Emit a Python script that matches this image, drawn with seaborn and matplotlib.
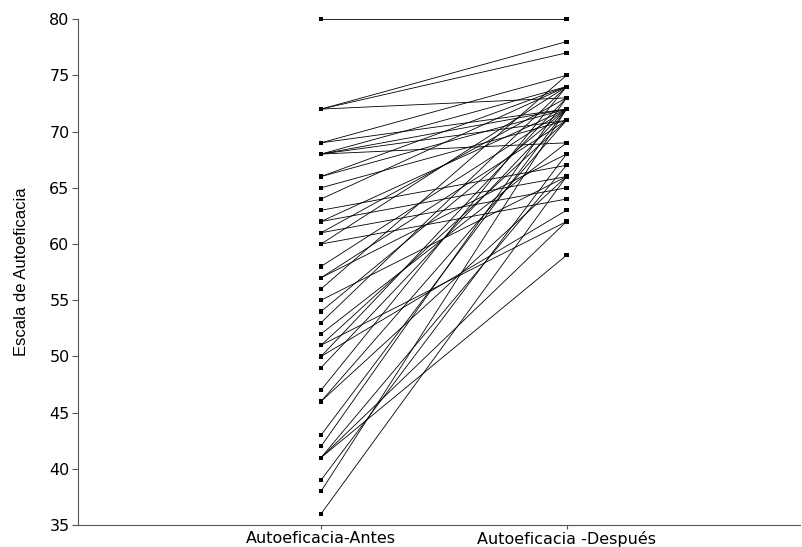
import matplotlib
matplotlib.use("Agg")
import matplotlib.pyplot as plt
import pandas as pd
import seaborn as sns

# paired scores per subject
antes = [80, 72, 72, 72, 69, 69, 68, 68, 68, 68, 66, 66, 65, 64, 63,
         62, 62, 61, 61, 60, 60, 58, 57, 57, 56, 55, 54, 53, 52, 51,
         51, 50, 50, 49, 47, 46, 46, 43, 42, 41, 41, 41, 39, 38, 36]
despues = [80, 78, 77, 73, 75, 72, 74, 72, 71, 69, 74, 72, 71, 74, 67,
           72, 66, 73, 65, 74, 64, 72, 71, 68, 75, 66, 72, 74, 69, 62,
           71, 63, 73, 72, 74, 66, 71, 72, 73, 62, 67, 59, 68, 72, 66]
categories = ["Autoeficacia-Antes", "Autoeficacia -Después"]
y_ticks = [35, 40, 45, 50, 55, 60, 65, 70, 75, 80]

rows = []
for i, (a, d) in enumerate(zip(antes, despues)):
    rows.append({"sujeto": i, "momento": 0, "valor": a})
    rows.append({"sujeto": i, "momento": 1, "valor": d})
df = pd.DataFrame(rows)

sns.set_style("ticks")
plt.rcParams["font.family"] = ["DejaVu Sans"]

fig = plt.figure(figsize=(8.03, 5.47), dpi=100)
ax = fig.add_axes([0.097, 0.040, 0.899, 0.925])

sns.lineplot(data=df, x="momento", y="valor", units="sujeto", estimator=None,
             color="black", linewidth=0.6, ax=ax, legend=False)
sns.scatterplot(data=df, x="momento", y="valor", marker="s", s=9,
                color="black", edgecolor="none", ax=ax, legend=False)
for c in ax.collections:
    c.set_clip_on(False)

ax.set_xlim(-0.99, 1.95)
ax.set_ylim(35, 80)
ax.set_yticks(y_ticks)
ax.set_xticks([0, 1])
ax.set_xticklabels(categories, fontsize=11.5)
ax.tick_params(axis="y", labelsize=11.5, length=4, width=0.8, color="#555555",
               labelcolor="black", pad=2)
ax.tick_params(axis="x", length=3, width=0.8, color="#555555",
               labelcolor="black", pad=1)
ax.set_xlabel("")
ax.set_ylabel("Escala de Autoeficacia", fontsize=12, color="black",
              family=["Liberation Sans", "DejaVu Sans"])
ax.yaxis.set_label_coords(-0.068, 0.5)
sns.despine(ax=ax)
for s in ["left", "bottom"]:
    ax.spines[s].set_color("#555555")
    ax.spines[s].set_linewidth(0.8)

fig.savefig("out.png", dpi=100)
